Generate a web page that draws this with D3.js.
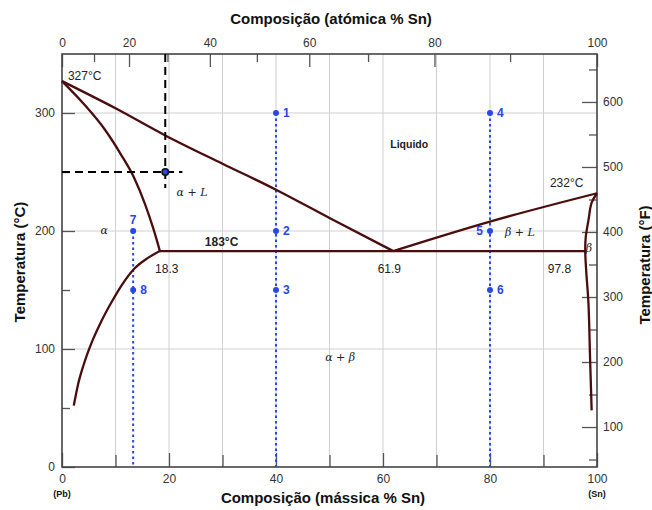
<!DOCTYPE html>
<html><head><meta charset="utf-8">
<script src="https://cdn.jsdelivr.net/npm/d3@7"></script>
<style>body{margin:0;background:#fff}svg{display:block}text{font-family:"Liberation Sans",Arial,sans-serif}</style>
</head><body><svg id="c" width="652" height="510"></svg>
<script>
// ---- data ----
const liquidusL = [[0,327],[10,304],[19.3,281],[30,257],[40,235],[50,211],[61.9,183]];
const liquidusR = [[61.9,183],[80,208],[100,232]];
const solidusA = [[0,327],[4,308],[8,286],[11,265],[13.5,245],[15.5,223],[17,203],[18.3,183]];
const solvusA = [[2.2,52],[3,70],[4,86],[5.5,105],[7.3,123],[9.3,140],[11.3,155],[13.5,168],[16,177],[18.3,183]];
const betaCurve = [[100,232],[99.0,224],[98.4,209],[97.9,195],[97.8,183],[98.0,165],[98.4,139],[98.7,93],[99.0,48]];
const eutectic = [[18.3,183],[97.8,183]];
const pointIds = ["1","2","3","4","5","6","7","8"];
const pointWt = [40,40,40,80,80,80,13.3,13.3];
const pointT = [300,200,150,300,200,150,200,150];
const guideWt = [13.3,40,80];
const guideTop = [200,300,300];
const markWt = 19.3, markT = 250;
const wtTicks = [0,20,40,60,80,100];
const wtMinor = [10,30,50,70,90];
const atTicks = [0,20,40,60,80,100];
const atMinor = [10,30,50,70,90];
const cTicks = [0,100,200,300];
const cMinor = [50,150,250];
const fTicks = [100,200,300,400,500,600];
const fMinor = [50,150,250,350,450,550,650];
const labels = [
 {t:"327°C", wt:1.1, T:328, a:"start", k:"num"},
 {t:"232°C", wt:91.2, T:237, a:"start", k:"num"},
 {t:"183°C", wt:26.7, T:187, a:"start", k:"bold"},
 {t:"18.3", wt:17.4, T:164, a:"start", k:"num"},
 {t:"61.9", wt:59, T:164, a:"start", k:"num"},
 {t:"97.8", wt:90.8, T:164, a:"start", k:"num"},
 {t:"Liquido", wt:64.9, T:270, a:"middle", k:"liq"},
 {t:"α + L", wt:24.3, T:230, a:"middle", k:"it"},
 {t:"β + L", wt:85.6, T:196, a:"middle", k:"it"},
 {t:"α", wt:7.9, T:197.5, a:"middle", k:"it"},
 {t:"β", wt:98.5, T:182, a:"middle", k:"it"},
 {t:"α + β", wt:52, T:90, a:"middle", k:"it"}
];
// ---- scales ----
const svg = d3.select("#c");
const x = d3.scaleLinear().domain([0,100]).range([62,597]);
const y = d3.scaleLinear().domain([0,350]).range([467,54]);
const yF = d3.scaleLinear().domain([38.5,673.8]).range([467,54]);
const MPb=207.2, MSn=118.71;
const atToWt = a => { const f=a/100; return 100*f*MSn/(f*MSn+(1-f)*MPb); };

// grid
const g = svg.append("g");
g.selectAll(".gv").data(wtMinor.concat([20,40,60,80])).enter().append("line")
 .attr("x1",d=>x(d)).attr("x2",d=>x(d)).attr("y1",y(0)).attr("y2",y(350))
 .attr("stroke","#d0d0d0").attr("stroke-width",1);
g.selectAll(".gh").data([100,200,300]).enter().append("line")
 .attr("x1",x(0)).attr("x2",x(100)).attr("y1",d=>y(d)).attr("y2",d=>y(d))
 .attr("stroke","#d0d0d0").attr("stroke-width",1);

function styleAxis(sel){
  sel.select(".domain").remove();
  sel.selectAll("line").attr("stroke","#555").attr("stroke-width",1.3);
  sel.selectAll("text").attr("fill","#333").style("font-size","12px").style("font-family","Liberation Sans, Arial, sans-serif");
}
// bottom
svg.append("g").attr("transform",`translate(0,${y(0)})`)
 .call(d3.axisBottom(x).tickValues(wtTicks).tickSize(-14).tickPadding(7)).call(styleAxis);
svg.append("g").attr("transform",`translate(0,${y(0)})`)
 .call(d3.axisBottom(x).tickValues(wtMinor).tickSize(-12).tickFormat("")).call(styleAxis);
// top (atomic %)
svg.append("g").attr("transform",`translate(0,${y(350)})`)
 .call(d3.axisTop(x).tickValues(atTicks.map(atToWt)).tickSize(-13).tickPadding(7).tickFormat((d,i)=>atTicks[i])).call(styleAxis);
svg.append("g").attr("transform",`translate(0,${y(350)})`)
 .call(d3.axisTop(x).tickValues(atMinor.map(atToWt)).tickSize(-8).tickFormat("")).call(styleAxis);
// left
svg.append("g").attr("transform",`translate(${x(0)},0)`)
 .call(d3.axisLeft(y).tickValues(cTicks).tickSize(-13).tickPadding(7)).call(styleAxis);
svg.append("g").attr("transform",`translate(${x(0)},0)`)
 .call(d3.axisLeft(y).tickValues(cMinor).tickSize(-8).tickFormat("")).call(styleAxis);
// right (°F)
svg.append("g").attr("transform",`translate(${x(100)},0)`)
 .call(d3.axisRight(yF).tickValues(fTicks).tickSize(-15).tickPadding(6)).call(styleAxis);
svg.append("g").attr("transform",`translate(${x(100)},0)`)
 .call(d3.axisRight(yF).tickValues(fMinor).tickSize(-8).tickFormat("")).call(styleAxis);

// frame
svg.append("rect").attr("x",x(0)).attr("y",y(350)).attr("width",x(100)-x(0)).attr("height",y(0)-y(350))
 .attr("fill","none").attr("stroke","#444").attr("stroke-width",1.6);

// blue guide lines
svg.selectAll(".guide").data(guideWt).enter().append("line")
 .attr("x1",d=>x(d)).attr("x2",d=>x(d)).attr("y1",(d,i)=>y(guideTop[i])).attr("y2",y(0))
 .attr("stroke","#2747e6").attr("stroke-width",2).attr("stroke-dasharray","2.5,3");

// phase curves
const line = d3.line().x(d=>x(d[0])).y(d=>y(d[1]));
const lineX = d3.line().x(d=>x(d[0])).y(d=>y(d[1])).curve(d3.curveMonotoneX);
const lineY = d3.line().x(d=>x(d[0])).y(d=>y(d[1])).curve(d3.curveCatmullRom.alpha(0.5));
const curveCol = "#4a0d0d";
[[liquidusL,lineX],[liquidusR,lineX],[solidusA,lineX],[solvusA,lineX],[betaCurve,lineY],[eutectic,line]].forEach(([dat,gen])=>{
  svg.append("path").attr("d",gen(dat)).attr("fill","none").attr("stroke",curveCol).attr("stroke-width",2.3);
});

// black dashed guide + marker
svg.append("line").attr("x1",x(markWt)).attr("x2",x(markWt)).attr("y1",y(350)).attr("y2",y(236.5))
 .attr("stroke","#000").attr("stroke-width",2).attr("stroke-dasharray","8,5");
svg.append("line").attr("x1",x(0)).attr("x2",x(22.5)).attr("y1",y(markT)).attr("y2",y(markT))
 .attr("stroke","#000").attr("stroke-width",2).attr("stroke-dasharray","8,5");
svg.append("circle").attr("cx",x(markWt)).attr("cy",y(markT)).attr("r",3.2)
 .attr("fill","#2747e6").attr("stroke","#111").attr("stroke-width",1.6);

// blue points
svg.selectAll(".pt").data(pointIds).enter().append("circle")
 .attr("cx",(d,i)=>x(pointWt[i])).attr("cy",(d,i)=>y(pointT[i])).attr("r",3).attr("fill","#2747e6");
svg.selectAll(".ptl").data(pointIds).enter().append("text")
 .attr("x",(d,i)=>x(pointWt[i]) + (d==="5"?-7:(d==="7"?0:7)))
 .attr("y",(d,i)=>y(pointT[i]) + (d==="7"?-7:4))
 .attr("text-anchor",d=>d==="5"?"end":(d==="7"?"middle":"start"))
 .attr("fill","#2747e6").style("font-size","12px").style("font-weight","bold").text(d=>d);

// region/annotation labels
svg.selectAll(".lab").data(labels).enter().append("text")
 .attr("x",d=>x(d.wt)).attr("y",d=>y(d.T)).attr("text-anchor",d=>d.a)
 .attr("fill","#222")
 .style("font-family",d=>d.k==="it"?"'DejaVu Serif','Liberation Serif',serif":"'Liberation Sans',Arial,sans-serif")
 .style("font-style",d=>d.k==="it"?"italic":"normal")
 .style("font-weight",d=>(d.k==="bold"||d.k==="liq")?"bold":"normal")
 .style("font-size",d=>d.k==="it"?"11px":(d.k==="liq"?"10.5px":"12px"))
 .text(d=>d.t);

// axis titles
svg.append("text").attr("x",331).attr("y",24).attr("text-anchor","middle")
 .style("font-size","15px").style("font-weight","bold").attr("fill","#111").text("Composição (atómica % Sn)");
svg.append("text").attr("x",323).attr("y",503).attr("text-anchor","middle")
 .style("font-size","15px").style("font-weight","bold").attr("fill","#111").text("Composição (mássica % Sn)");
svg.append("text").attr("transform","translate(25,262) rotate(-90)").attr("text-anchor","middle")
 .style("font-size","15px").style("font-weight","bold").attr("fill","#111").text("Temperatura (°C)");
svg.append("text").attr("transform","translate(650,265) rotate(-90)").attr("text-anchor","middle")
 .style("font-size","15px").style("font-weight","bold").attr("fill","#111").text("Temperatura (°F)");
svg.append("text").attr("x",x(0)).attr("y",497).attr("text-anchor","middle")
 .style("font-size","9px").style("font-weight","bold").attr("fill","#111").text("(Pb)");
svg.append("text").attr("x",x(100)).attr("y",497).attr("text-anchor","middle")
 .style("font-size","9px").style("font-weight","bold").attr("fill","#111").text("(Sn)");
</script></body></html>
